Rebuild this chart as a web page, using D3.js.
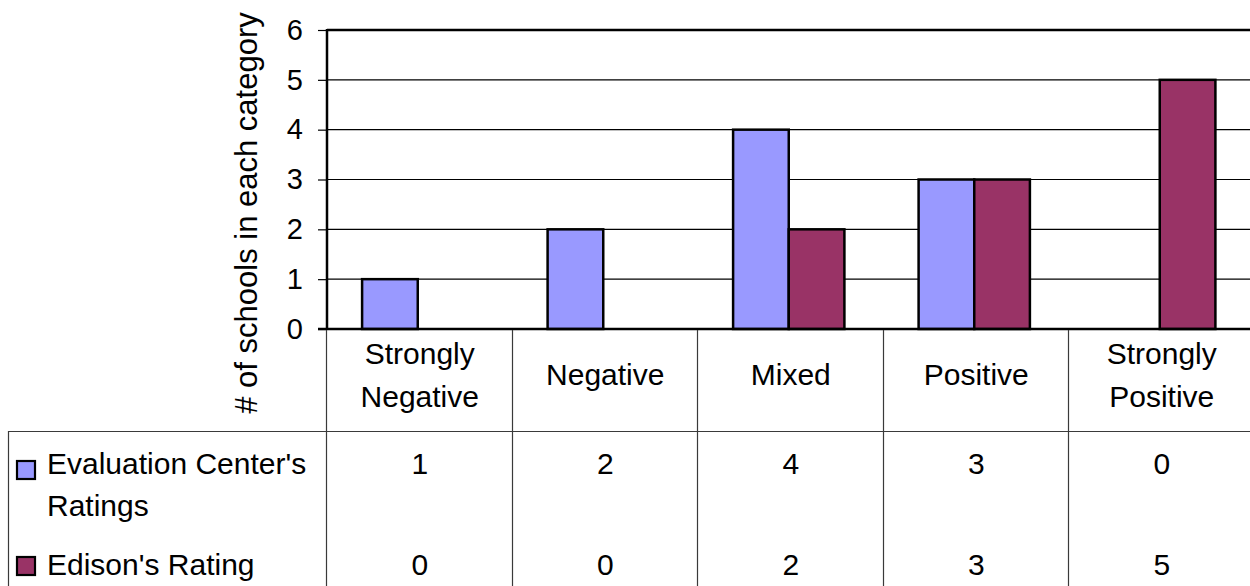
<!DOCTYPE html>
<html><head><meta charset="utf-8">
<script src="https://cdn.jsdelivr.net/npm/d3@7"></script>
<style>body{margin:0;background:#fff}svg{display:block}text{font-family:"Liberation Sans",Arial,sans-serif;fill:#000}</style>
</head><body>
<svg id="c" width="1250" height="586"></svg>
<script>
const categories = ["Strongly Negative","Negative","Mixed","Positive","Strongly Positive"];
const categoryLines = [["Strongly","Negative"],["Negative"],["Mixed"],["Positive"],["Strongly","Positive"]];
const seriesNames = ["Evaluation Center's Ratings","Edison's Rating"];
const seriesLabelLines = [["Evaluation Center's","Ratings"],["Edison's Rating"]];
const evalCenterRatings = [1,2,4,3,0];
const edisonRatings = [0,0,2,3,5];
const yTicks = [0,1,2,3,4,5,6];
const colors = ["#9999FF","#993366"];
const yTitle = "# of schools in each category";

const svg = d3.select("#c");
const L = 327, R = 1254.5, T = 30, B = 329;
const x = d3.scaleBand().domain(categories).range([L,R]).padding(0);
const bw = x.bandwidth();
const x1 = d3.scaleBand().domain(seriesNames).range([bw*0.2-2, bw*0.8-2]).padding(0);
const y = d3.scaleLinear().domain([0,6]).range([B,T]);
const series = [evalCenterRatings, edisonRatings];

// gridlines
svg.append("g").selectAll("line").data(yTicks.filter(t=>t>0&&t<6)).join("line")
  .attr("x1",L).attr("x2",1250).attr("y1",d=>y(d)).attr("y2",d=>y(d))
  .attr("stroke","#000").attr("stroke-width",1.2);

// y axis
const yAxis = d3.axisLeft(y).tickValues(yTicks).tickSize(9).tickPadding(15).tickFormat(d3.format("d"));
const gy = svg.append("g").attr("transform",`translate(${L},0)`).call(yAxis);
gy.select(".domain").remove();
gy.selectAll(".tick line").attr("stroke","#000").attr("stroke-width",1.2);
gy.selectAll(".tick text").attr("font-size",29).attr("font-family","Liberation Sans, Arial, sans-serif").attr("fill","#000");

// bars
const flat = [];
series.forEach((s,si)=>s.forEach((v,ci)=>{ if(v>0) flat.push({c:categories[ci],s:seriesNames[si],v,si}); }));
svg.append("g").selectAll("rect").data(flat).join("rect")
  .attr("x",d=>x(d.c)+x1(d.s)).attr("width",x1.bandwidth())
  .attr("y",d=>y(d.v)).attr("height",d=>y(0)-y(d.v))
  .attr("fill",d=>colors[d.si]).attr("stroke","#000").attr("stroke-width",2.5);

// frame
svg.append("line").attr("x1",L).attr("x2",1250).attr("y1",T).attr("y2",T).attr("stroke","#000").attr("stroke-width",2.5);
svg.append("line").attr("x1",L).attr("x2",L).attr("y1",T-1).attr("y2",B).attr("stroke","#000").attr("stroke-width",2.5);
svg.append("line").attr("x1",L-9).attr("x2",1250).attr("y1",B).attr("y2",B).attr("stroke","#000").attr("stroke-width",2.5);

// table lines
const tg = svg.append("g").attr("stroke","#3a3a3a").attr("stroke-width",1.2);
tg.append("line").attr("x1",8).attr("x2",1250).attr("y1",431.5).attr("y2",431.5);
tg.append("line").attr("x1",8.5).attr("x2",8.5).attr("y1",431).attr("y2",586);
const bounds = categories.map(c=>x(c));
tg.selectAll("line.v").data(bounds).join("line").attr("class","v")
  .attr("x1",d=>Math.round(d)-0.5).attr("x2",d=>Math.round(d)-0.5).attr("y1",B+1).attr("y2",586);

// category labels
const cl = svg.append("g").selectAll("text").data(categoryLines).join("text")
  .attr("text-anchor","middle").attr("font-size",30);
cl.each(function(lines,i){
  const cx = x(categories[i]) + bw/2;
  const base = lines.length===2 ? [364,407] : [385];
  d3.select(this).selectAll("tspan").data(lines).join("tspan")
    .attr("x",cx).attr("y",(d,j)=>base[j]).text(d=>d);
});

// legend cells
const legY = [[474,516],[575]];
const swY = [461,557];
seriesLabelLines.forEach((lines,si)=>{
  const sy = legY[si][0];
  svg.append("rect").attr("x",17).attr("y",swY[si]).attr("width",18).attr("height",18)
    .attr("fill",colors[si]).attr("stroke","#000").attr("stroke-width",2.2);
  const t = svg.append("text").attr("font-size",30);
  lines.forEach((ln,j)=>t.append("tspan").attr("x",47).attr("y",legY[si][j]).text(ln));
  svg.append("g").selectAll("text").data(series[si]).join("text")
    .attr("x",(d,i)=>x(categories[i])+bw/2).attr("y",sy)
    .attr("text-anchor","middle").attr("font-size",30).text(d=>d);
});

// y title
svg.append("text").attr("transform","translate(257,213) rotate(-90)")
  .attr("text-anchor","middle").attr("font-size",31).text(yTitle);
</script>
</body></html>
